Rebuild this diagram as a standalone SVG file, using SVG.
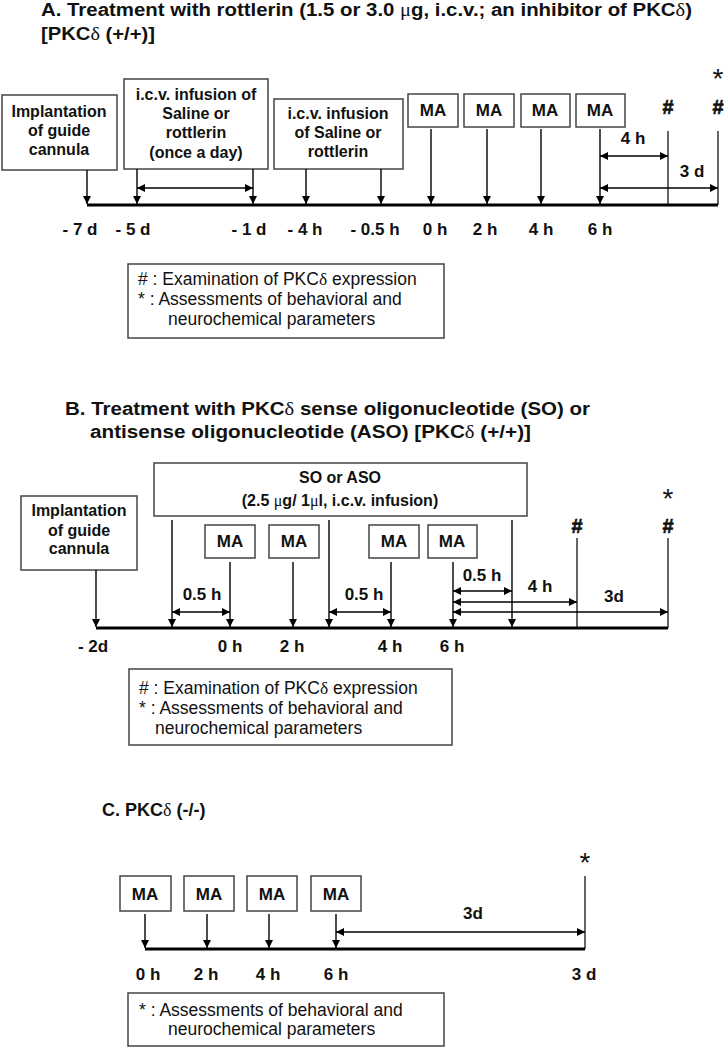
<svg xmlns="http://www.w3.org/2000/svg" width="724" height="1048" viewBox="0 0 724 1048">
<style>
text{font-family:"Liberation Sans",Arial,sans-serif;fill:#111}
.t{font-size:18px;font-weight:bold}
.b{font-size:16px;font-weight:bold;text-anchor:middle}
.ma{font-size:17px;font-weight:bold;text-anchor:middle}
.lab{font-size:17px;font-weight:bold;text-anchor:middle}
.hash{font-size:20px;font-weight:bold;text-anchor:middle;stroke:#111;stroke-width:0.6}
.star{font-size:28px;text-anchor:middle}
.leg{font-size:17.5px}
.g{font-family:"Liberation Serif",serif;font-weight:normal}
.box{fill:#fff;stroke:#444;stroke-width:1.5}
.ax{stroke:#000;stroke-width:3}
.ar{stroke:#000;stroke-width:1.4;fill:none;marker-end:url(#ah)}
.da{stroke:#000;stroke-width:1.4;fill:none;marker-start:url(#ah);marker-end:url(#ah)}
.ln{stroke:#000;stroke-width:1.2}
</style>
<defs>
<marker id="ah" viewBox="0 0 10 10" refX="10" refY="5" markerWidth="10" markerHeight="8" markerUnits="userSpaceOnUse" orient="auto-start-reverse"><path d="M0,0 L10,5 L0,10 z" fill="#000"/></marker>
</defs>

<g id="titleA">
<text class="t" x="41" y="16" textLength="651" lengthAdjust="spacingAndGlyphs">A. Treatment with rottlerin (1.5 or 3.0 <tspan class="g">μ</tspan>g, i.c.v.; an inhibitor of PKC<tspan class="g">δ</tspan>)</text>
<text class="t" x="41" y="40" textLength="114" lengthAdjust="spacingAndGlyphs">[PKC<tspan class="g">δ</tspan> (+/+)]</text>
</g>

<g id="A-implant"><rect class="box" x="2" y="95" width="115" height="75"/>
<text class="b" x="59" y="117">Implantation</text><text class="b" x="59" y="136">of guide</text><text class="b" x="59" y="155">cannula</text></g>
<g id="A-infusion1"><rect class="box" x="124" y="79" width="144" height="90"/>
<text class="b" x="196" y="100">i.c.v. infusion of</text><text class="b" x="196" y="119">Saline or</text><text class="b" x="196" y="138">rottlerin</text><text class="b" x="196" y="158">(once a day)</text></g>
<g id="A-infusion2"><rect class="box" x="274" y="99" width="129" height="70"/>
<text class="b" x="338" y="119">i.c.v. infusion</text><text class="b" x="338" y="138">of Saline or</text><text class="b" x="338" y="157">rottlerin</text></g>
<g id="A-MA1"><rect class="box" x="408" y="94" width="50" height="33"/><text class="ma" x="433" y="116">MA</text></g>
<g id="A-MA2"><rect class="box" x="464" y="94" width="50" height="33"/><text class="ma" x="489" y="116">MA</text></g>
<g id="A-MA3"><rect class="box" x="521" y="94" width="49" height="33"/><text class="ma" x="545" y="116">MA</text></g>
<g id="A-MA4"><rect class="box" x="576" y="94" width="49" height="33"/><text class="ma" x="600" y="116">MA</text></g>
<g id="A-marks">
<text class="hash" x="668" y="114">#</text><text class="hash" x="718" y="114">#</text>
<text class="star" x="718" y="88">*</text>
</g>
<g id="A-connectors">
<line class="ax" x1="87" y1="205" x2="718" y2="205"/>
<line class="ar" x1="87" y1="170" x2="87" y2="204"/>
<line class="ar" x1="137" y1="169" x2="137" y2="204"/>
<line class="ar" x1="253" y1="169" x2="253" y2="204"/>
<line class="ar" x1="306" y1="169" x2="306" y2="204"/>
<line class="ar" x1="381" y1="169" x2="381" y2="204"/>
<line class="ar" x1="431" y1="129" x2="431" y2="204"/>
<line class="ar" x1="487" y1="129" x2="487" y2="204"/>
<line class="ar" x1="541" y1="129" x2="541" y2="204"/>
<line class="ar" x1="600" y1="129" x2="600" y2="204"/>
<line class="ln" x1="668" y1="131" x2="668" y2="205"/>
<line class="ln" x1="718" y1="131" x2="718" y2="205"/>
<line class="da" x1="137" y1="188" x2="253" y2="188"/>
<line class="da" x1="600" y1="156" x2="668" y2="156"/>
<line class="da" x1="600" y1="188" x2="718" y2="188"/>
</g>
<g id="A-labels">
<text class="lab" x="633" y="144">4 h</text><text class="lab" x="692" y="177">3 d</text>
<text class="lab" x="80" y="235">- 7 d</text><text class="lab" x="133" y="235">- 5 d</text>
<text class="lab" x="249" y="235">- 1 d</text><text class="lab" x="305" y="235">- 4 h</text>
<text class="lab" x="375" y="235">- 0.5 h</text><text class="lab" x="435" y="235">0 h</text>
<text class="lab" x="485" y="235">2 h</text><text class="lab" x="541" y="235">4 h</text>
<text class="lab" x="600" y="235">6 h</text>
</g>
<g id="A-legend"><rect class="box" x="128" y="264" width="316" height="74"/>
<text class="leg" x="138" y="285">#&#160;: Examination of PKC<tspan class="g">δ</tspan> expression</text>
<text class="leg" x="138" y="305">*&#160;: Assessments of behavioral and</text>
<text class="leg" x="168" y="325">neurochemical parameters</text></g>

<g id="titleB">
<text class="t" x="65" y="415" textLength="525" lengthAdjust="spacingAndGlyphs">B. Treatment with PKC<tspan class="g">δ</tspan> sense oligonucleotide (SO) or</text>
<text class="t" x="90" y="438" textLength="441" lengthAdjust="spacingAndGlyphs">antisense oligonucleotide (ASO) [PKC<tspan class="g">δ</tspan> (+/+)]</text>
</g>
<g id="B-implant"><rect class="box" x="21" y="496" width="116" height="74"/>
<text class="b" x="79" y="516">Implantation</text><text class="b" x="79" y="536">of guide</text><text class="b" x="79" y="554">cannula</text></g>
<g id="B-SO"><rect class="box" x="154" y="463" width="373" height="53"/>
<text class="b" x="340" y="483">SO or ASO</text><text class="b" x="340" y="506">(2.5 <tspan class="g">μ</tspan>g/ 1<tspan class="g">μ</tspan>l, i.c.v. infusion)</text></g>
<g id="B-MA1"><rect class="box" x="205" y="525" width="50" height="33"/><text class="ma" x="230" y="547">MA</text></g>
<g id="B-MA2"><rect class="box" x="269" y="525" width="50" height="33"/><text class="ma" x="294" y="547">MA</text></g>
<g id="B-MA3"><rect class="box" x="369" y="525" width="50" height="33"/><text class="ma" x="394" y="547">MA</text></g>
<g id="B-MA4"><rect class="box" x="428" y="525" width="49" height="33"/><text class="ma" x="452" y="547">MA</text></g>
<g id="B-marks">
<text class="hash" x="577" y="533">#</text><text class="hash" x="668" y="533">#</text>
<text class="star" x="668" y="508">*</text>
</g>
<g id="B-connectors">
<line class="ax" x1="96" y1="628" x2="668" y2="628"/>
<line class="ar" x1="96" y1="570" x2="96" y2="627"/>
<line class="ar" x1="172" y1="520" x2="172" y2="627"/>
<line class="ar" x1="329" y1="520" x2="329" y2="627"/>
<line class="ar" x1="512" y1="520" x2="512" y2="627"/>
<line class="ar" x1="230" y1="562" x2="230" y2="627"/>
<line class="ar" x1="293" y1="562" x2="293" y2="627"/>
<line class="ar" x1="391" y1="562" x2="391" y2="627"/>
<line class="ar" x1="453" y1="562" x2="453" y2="627"/>
<line class="ln" x1="577" y1="538" x2="577" y2="628"/>
<line class="ln" x1="668" y1="538" x2="668" y2="628"/>
<line class="da" x1="172" y1="612" x2="230" y2="612"/>
<line class="da" x1="329" y1="612" x2="391" y2="612"/>
<line class="da" x1="453" y1="591" x2="512" y2="591"/>
<line class="da" x1="453" y1="602" x2="577" y2="602"/>
<line class="da" x1="453" y1="612" x2="668" y2="612"/>
</g>
<g id="B-labels">
<text class="lab" x="202" y="600">0.5 h</text><text class="lab" x="364" y="600">0.5 h</text>
<text class="lab" x="482" y="581">0.5 h</text><text class="lab" x="540" y="592">4 h</text>
<text class="lab" x="614" y="602">3d</text>
<text class="lab" x="93" y="652">- 2d</text><text class="lab" x="230" y="652">0 h</text>
<text class="lab" x="292" y="652">2 h</text><text class="lab" x="390" y="652">4 h</text>
<text class="lab" x="452" y="652">6 h</text>
</g>
<g id="B-legend"><rect class="box" x="129" y="669" width="323" height="76"/>
<text class="leg" x="139" y="694">#&#160;: Examination of PKC<tspan class="g">δ</tspan> expression</text>
<text class="leg" x="139" y="714">*&#160;: Assessments of behavioral and</text>
<text class="leg" x="155" y="734">neurochemical parameters</text></g>

<g id="titleC"><text class="t" x="102" y="816">C. PKC<tspan class="g">δ</tspan> (-/-)</text></g>
<g id="C-MA1"><rect class="box" x="120" y="876" width="51" height="35"/><text class="ma" x="145" y="900">MA</text></g>
<g id="C-MA2"><rect class="box" x="184" y="876" width="50" height="35"/><text class="ma" x="209" y="900">MA</text></g>
<g id="C-MA3"><rect class="box" x="247" y="876" width="50" height="35"/><text class="ma" x="272" y="900">MA</text></g>
<g id="C-MA4"><rect class="box" x="311" y="876" width="50" height="35"/><text class="ma" x="336" y="900">MA</text></g>
<g id="C-marks"><text class="star" x="585" y="872">*</text></g>
<g id="C-connectors">
<line class="ax" x1="145" y1="949" x2="585" y2="949"/>
<line class="ar" x1="145" y1="914" x2="145" y2="948"/>
<line class="ar" x1="207" y1="914" x2="207" y2="948"/>
<line class="ar" x1="269" y1="914" x2="269" y2="948"/>
<line class="ar" x1="336" y1="914" x2="336" y2="948"/>
<line class="ln" x1="585" y1="876" x2="585" y2="949"/>
<line class="da" x1="336" y1="932" x2="585" y2="932"/>
</g>
<g id="C-labels">
<text class="lab" x="473" y="919">3d</text>
<text class="lab" x="148" y="980">0 h</text><text class="lab" x="206" y="980">2 h</text>
<text class="lab" x="268" y="980">4 h</text><text class="lab" x="336" y="980">6 h</text>
<text class="lab" x="584" y="980">3 d</text>
</g>
<g id="C-legend"><rect class="box" x="128" y="993" width="316" height="53"/>
<text class="leg" x="139" y="1016">*&#160;: Assessments of behavioral and</text>
<text class="leg" x="168" y="1035">neurochemical parameters</text></g>
</svg>
